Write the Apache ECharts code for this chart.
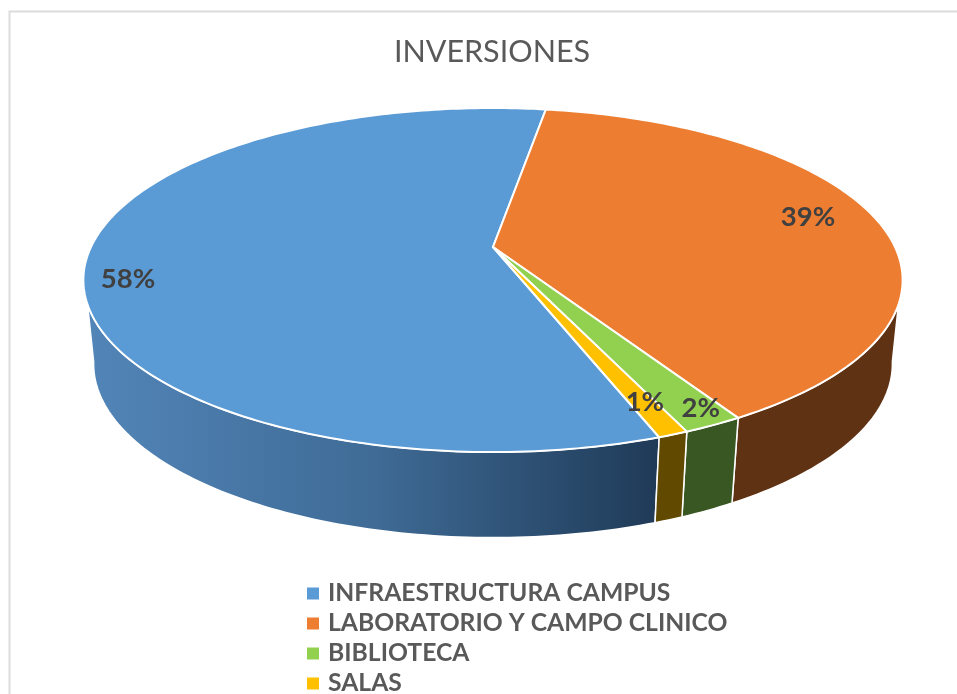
<!DOCTYPE html>
<html lang="es">
<head>
    <meta charset="utf-8" />
    <title>INVERSIONES</title>
    <script src="https://cdn.jsdelivr.net/npm/echarts@6/dist/echarts.min.js"></script>
</head>
<body style="margin:0;background:#fff;">
    <div id="main" style="width:957px;height:694px;"></div>
    <script type="text/javascript">
        // datos
        var categories = ['INFRAESTRUCTURA CAMPUS', 'LABORATORIO Y CAMPO CLINICO', 'BIBLIOTECA', 'SALAS'];
        var values = [58, 39, 2, 1];
        var topColors = ['#5b9bd5', '#ed7d31', '#92d050', '#ffc000'];
        var sideColors = [null, '#5f3214', '#385723', '#614a00'];

        // posicion de las etiquetas, en fraccion de radio y grados respecto al centro del sector
        var labelRadius = [0.895, 0.833, 0.928, 0.855];
        var labelTurn = [-6.6, -2.2, -1, -0.4];

        // perspectiva del disco
        var cx = 493, cy = 247;
        var scaleX = 402, scaleY = 165.7, persp = 0.192;
        var startAngle = 160.2;
        var total = values.reduce(function (a, b) { return a + b; }, 0);

        function project(deg, r) {
            var t = deg * Math.PI / 180;
            var x = Math.sin(t) * r, z = -Math.cos(t) * r;
            var w = 1 - persp * z;
            return [cx + scaleX * x / w, cy + scaleY * z / w];
        }
        function projectLow(deg) {
            var p = project(deg, 1);
            return [cx + (p[0] - cx) * 0.975, cy + 83.5 + (p[1] - cy) * 1.01];
        }
        function arc(fn, a, b) {
            var pts = [];
            var n = Math.max(2, Math.ceil(Math.abs(b - a)));
            for (var i = 0; i <= n; i++) {
                pts.push(fn(a + (b - a) * i / n));
            }
            return pts;
        }
        function topArc(d) { return project(d, 1); }

        function sliceStart(idx) {
            var sum = 0;
            for (var i = 0; i < idx; i++) sum += values[i];
            return (startAngle + sum / total * 360) % 360;
        }

        function makeRender(idx) {
            return function (params, api) {
                var a = sliceStart(idx);
                var b = a + api.value(0) / total * 360;
                var children = [];

                // lateral: solo la parte visible hacia delante
                var topA = Math.max(a, 109), topB = Math.min(b, 251);
                var lowA = a < 109 ? 100.4 : a, lowB = b > 251 ? 259.6 : b;
                var side = arc(topArc, topA, topB).concat(arc(projectLow, lowB, lowA));
                var sideFill = sideColors[idx];
                if (!sideFill) {
                    // el lado azul va de claro (izquierda) a oscuro (derecha)
                    sideFill = new echarts.graphic.LinearGradient(0, 0, 1, 0, [
                        { offset: 0, color: '#5285b8' },
                        { offset: 0.5, color: '#3f6b96' },
                        { offset: 1, color: '#1f3a57' }
                    ]);
                }
                children.push({
                    type: 'polygon',
                    z2: 1,
                    shape: { points: side },
                    style: { fill: sideFill, stroke: '#fff', lineWidth: 1.5 }
                });

                // cara superior
                var face = [[cx, cy]].concat(arc(topArc, a, b));
                children.push({
                    type: 'polygon',
                    z2: 2,
                    shape: { points: face },
                    style: { fill: topColors[idx], stroke: '#fff', lineWidth: 2 }
                });

                // etiqueta
                var lp = project((a + b) / 2 + labelTurn[idx], labelRadius[idx]);
                children.push({
                    type: 'text',
                    z2: 10,
                    style: {
                        x: lp[0], y: lp[1],
                        text: Math.round(api.value(0) / total * 100) + '%',
                        fill: '#404040',
                        fontFamily: 'Lato',
                        fontWeight: 'bold',
                        fontSize: 27.5,
                        align: 'center',
                        verticalAlign: 'middle'
                    }
                });
                return { type: 'group', children: children };
            };
        }

        var series = categories.map(function (name, i) {
            return {
                name: name,
                type: 'custom',
                coordinateSystem: 'none',
                renderItem: makeRender(i),
                itemStyle: { color: topColors[i] },
                data: [[values[i]]],
                silent: true
            };
        });

        var myChart = echarts.init(document.getElementById('main'));
        var option = {
            animation: false,
            backgroundColor: '#fff',
            title: {
                text: 'INVERSIONES',
                left: 487,
                top: 32,
                textAlign: 'center',
                textStyle: { color: '#595959', fontFamily: 'Lato', fontWeight: 'normal', fontSize: 30.5 }
            },
            legend: {
                orient: 'vertical',
                left: 307,
                top: 581,
                height: 150,
                itemWidth: 12,
                itemHeight: 12,
                itemGap: 5,
                icon: 'rect',
                padding: 0,
                selectedMode: false,
                data: categories,
                textStyle: { color: '#595959', fontFamily: 'Lato', fontWeight: 'bold', fontSize: 24.7, padding: [0, 0, 0, 4] }
            },
            graphic: [{
                type: 'rect',
                silent: true,
                shape: { x: 9.5, y: 11.5, width: 1000, height: 1000 },
                style: { fill: 'none', stroke: '#dcdcdc', lineWidth: 2 }
            }],
            series: series
        };
        myChart.setOption(option);
    </script>
</body>
</html>
